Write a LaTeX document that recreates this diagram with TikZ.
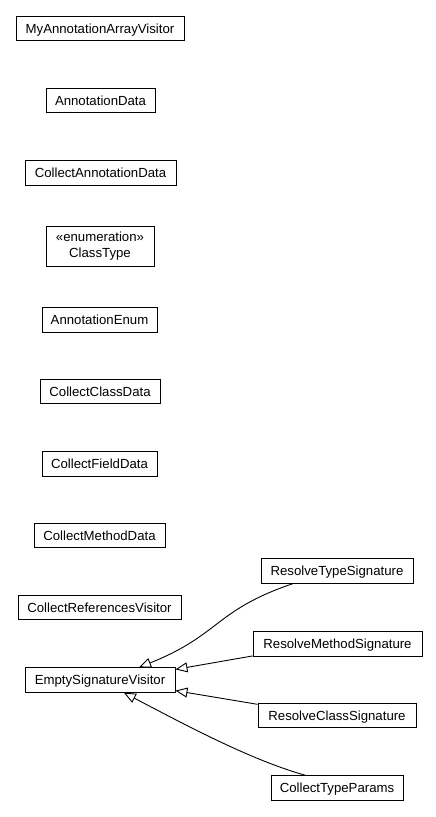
\documentclass[tikz,border=0pt]{standalone}
\usepackage{fontspec}
\setmainfont{Liberation Sans}
\usetikzlibrary{arrows.meta}
\tikzset{
  cls/.style={draw=black, line width=0.9pt, fill=white, inner sep=0pt, align=center,
    font=\fontsize{13.2}{16}\selectfont, minimum height=24.5pt, text height=10pt, text depth=1pt},
  inh/.style={line width=0.9pt, -{Triangle[open, length=12pt, width=10pt, line width=0.9pt]}}
}
\begin{document}
\begin{tikzpicture}[x=1pt, y=-1pt]
\useasboundingbox (0,0) rectangle (436,817);
\node[cls, minimum width=168pt] (maav) at (100,28.5) {MyAnnotationArrayVisitor};
\node[cls, minimum width=109pt] (ad) at (100.5,100.5) {AnnotationData};
\node[cls, minimum width=151pt] (cad) at (100.5,173) {CollectAnnotationData};
\node[cls, minimum width=108pt, minimum height=40pt, text height=, text depth=, align=none]
  (ct) at (100,246) {\raisebox{-1.5pt}{\begin{tabular}{@{}c@{}}«enumeration»\\ClassType\end{tabular}}};
\node[cls, minimum width=115pt] (ae) at (99.5,320) {AnnotationEnum};
\node[cls, minimum width=120pt] (ccd) at (100,391.5) {CollectClassData};
\node[cls, minimum width=115pt] (cfd) at (99.5,464) {CollectFieldData};
\node[cls, minimum width=131pt] (cmd) at (99.5,535.5) {CollectMethodData};
\node[cls, minimum width=163pt] (crv) at (99.5,607.5) {CollectReferencesVisitor};
\node[cls, minimum width=150pt] (esv) at (100,680) {EmptySignatureVisitor};
\node[cls, minimum width=152pt] (rts) at (337,571) {ResolveTypeSignature};
\node[cls, minimum width=169pt] (rms) at (337.5,644) {ResolveMethodSignature};
\node[cls, minimum width=158pt] (rcs) at (337,715.5) {ResolveClassSignature};
\node[cls, minimum width=132pt] (ctp) at (337,788) {CollectTypeParams};
\draw[inh] (rts.196) .. controls (215,610) and (220,635) .. (esv.18);
\draw[inh] (rms.188) -- (esv.8);
\draw[inh] (rcs.172) -- (esv.-8);
\draw[inh] (ctp.158) .. controls (250,760) and (180,722) .. (esv.-28);
\end{tikzpicture}
\end{document}
